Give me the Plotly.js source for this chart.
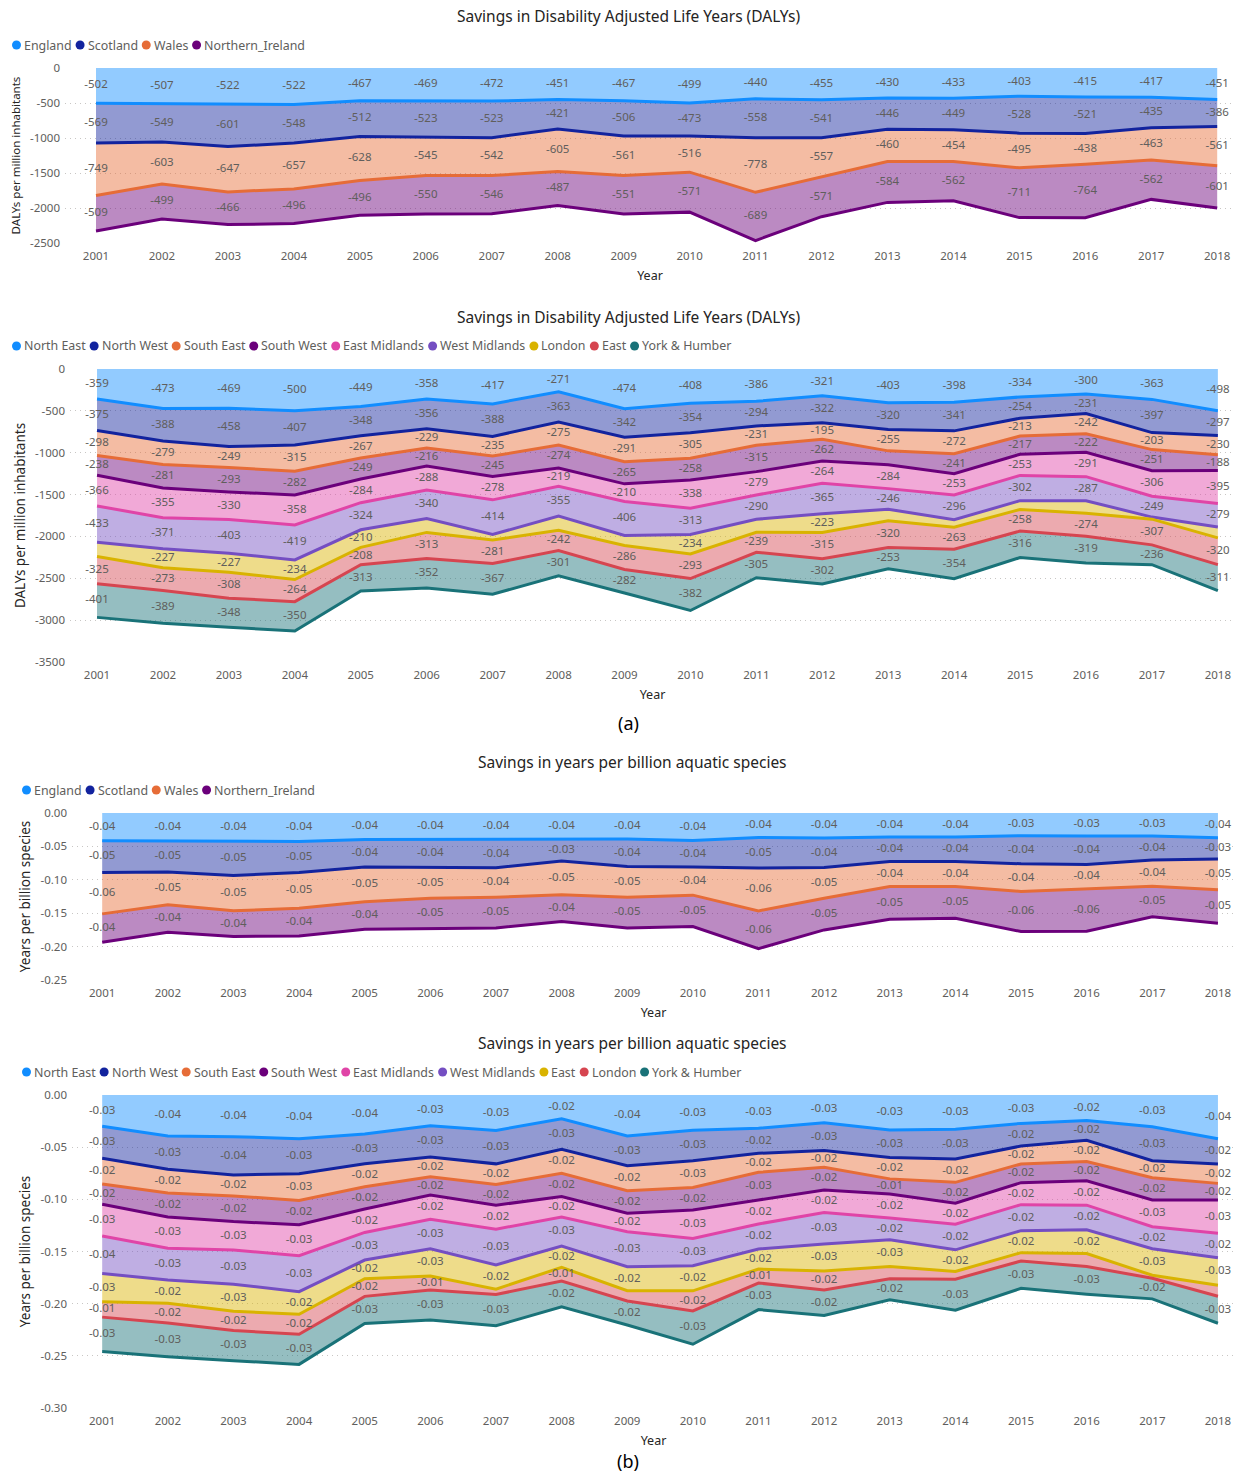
<!DOCTYPE html>
<html>
<head>
<meta charset="utf-8">
<script src="https://cdn.plot.ly/plotly-3.0.1.min.js"></script>
<style>
  html, body { margin: 0; padding: 0; background: #ffffff; }
  #chart { width: 1237px; height: 1472px; }
</style>
</head>
<body>
<div id="chart"></div>
<script>
// ---------------- DATA ----------------
const years = [2001, 2002, 2003, 2004, 2005, 2006, 2007, 2008, 2009, 2010, 2011, 2012, 2013, 2014, 2015, 2016, 2017, 2018];
const yearLabels = ['2001','2002','2003','2004','2005','2006','2007','2008','2009','2010','2011','2012','2013','2014','2015','2016','2017','2018'];

const nationNames = ['England', 'Scotland', 'Wales', 'Northern_Ireland'];
const regionNamesDaly = ['North East', 'North West', 'South East', 'South West', 'East Midlands', 'West Midlands', 'London', 'East', 'York & Humber'];
const regionNamesAqua = ['North East', 'North West', 'South East', 'South West', 'East Midlands', 'West Midlands', 'East', 'London', 'York & Humber'];

// Panel 1: DALYs per million inhabitants, nations
const englandDaly  = [-502, -507, -522, -522, -467, -469, -472, -451, -467, -499, -440, -455, -430, -433, -403, -415, -417, -451];
const scotlandDaly = [-569, -549, -601, -548, -512, -523, -523, -421, -506, -473, -558, -541, -446, -449, -528, -521, -435, -386];
const walesDaly    = [-749, -603, -647, -657, -628, -545, -542, -605, -561, -516, -778, -557, -460, -454, -495, -438, -463, -561];
const nIrelandDaly = [-509, -499, -466, -496, -496, -550, -546, -487, -551, -571, -689, -571, -584, -562, -711, -764, -562, -601];

// Panel 2: DALYs per million inhabitants, English regions
const northEastDaly    = [-359, -473, -469, -500, -449, -358, -417, -271, -474, -408, -386, -321, -403, -398, -334, -300, -363, -498];
const northWestDaly    = [-375, -388, -458, -407, -348, -356, -388, -363, -342, -354, -294, -322, -320, -341, -254, -231, -397, -297];
const southEastDaly    = [-298, -279, -249, -315, -267, -229, -235, -275, -291, -305, -231, -195, -255, -272, -213, -242, -203, -230];
const southWestDaly    = [-238, -281, -293, -282, -249, -216, -245, -274, -265, -258, -315, -262, -167, -241, -217, -222, -251, -188];
const eastMidlandsDaly = [-366, -355, -330, -358, -284, -288, -278, -219, -210, -338, -279, -264, -284, -253, -253, -291, -306, -395];
const westMidlandsDaly = [-433, -371, -403, -419, -324, -340, -414, -355, -406, -313, -290, -365, -246, -296, -302, -287, -249, -279];
const londonDaly       = [-172, -227, -227, -234, -210, -165, -66, -170, -120, -234, -155, -223, -138, -88, -105, -150, -25, -130];
const eastDaly         = [-325, -273, -308, -264, -208, -313, -281, -242, -286, -293, -239, -315, -320, -263, -258, -274, -307, -320];
const yorkDaly         = [-401, -389, -348, -350, -313, -352, -367, -301, -282, -382, -305, -302, -253, -354, -316, -319, -236, -311];

// Panel 3: years per billion aquatic species, nations
const englandAqua  = [-0.0415, -0.0415, -0.0425, -0.0425, -0.0395, -0.0395, -0.0400, -0.0390, -0.0390, -0.0410, -0.0365, -0.0375, -0.0360, -0.0360, -0.0340, -0.0345, -0.0345, -0.0370];
const scotlandAqua = [-0.0475, -0.0470, -0.0510, -0.0465, -0.0415, -0.0420, -0.0420, -0.0330, -0.0410, -0.0400, -0.0460, -0.0440, -0.0365, -0.0365, -0.0420, -0.0425, -0.0360, -0.0320];
const walesAqua    = [-0.0620, -0.0490, -0.0530, -0.0535, -0.0520, -0.0460, -0.0440, -0.0505, -0.0460, -0.0420, -0.0640, -0.0460, -0.0375, -0.0375, -0.0415, -0.0360, -0.0390, -0.0460];
const nIrelandAqua = [-0.0425, -0.0410, -0.0385, -0.0415, -0.0410, -0.0460, -0.0460, -0.0400, -0.0460, -0.0470, -0.0565, -0.0475, -0.0490, -0.0475, -0.0600, -0.0640, -0.0460, -0.0500];

// Panel 4: years per billion aquatic species, English regions
const northEastAqua    = [-0.0300, -0.0393, -0.0399, -0.0419, -0.0374, -0.0294, -0.0340, -0.0227, -0.0393, -0.0339, -0.0319, -0.0265, -0.0335, -0.0329, -0.0272, -0.0245, -0.0304, -0.0419];
const northWestAqua    = [-0.0307, -0.0319, -0.0367, -0.0335, -0.0284, -0.0300, -0.0320, -0.0294, -0.0284, -0.0291, -0.0240, -0.0268, -0.0265, -0.0284, -0.0217, -0.0189, -0.0326, -0.0243];
const southEastAqua    = [-0.0246, -0.0227, -0.0201, -0.0256, -0.0221, -0.0189, -0.0198, -0.0230, -0.0240, -0.0256, -0.0182, -0.0160, -0.0204, -0.0224, -0.0172, -0.0204, -0.0163, -0.0185];
const southWestAqua    = [-0.0195, -0.0230, -0.0246, -0.0233, -0.0214, -0.0176, -0.0198, -0.0223, -0.0217, -0.0217, -0.0265, -0.0217, -0.0145, -0.0201, -0.0179, -0.0185, -0.0214, -0.0160];
const eastMidlandsAqua = [-0.0303, -0.0300, -0.0272, -0.0297, -0.0224, -0.0233, -0.0230, -0.0195, -0.0176, -0.0272, -0.0230, -0.0217, -0.0230, -0.0201, -0.0211, -0.0233, -0.0255, -0.0319];
const westMidlandsAqua = [-0.0360, -0.0304, -0.0329, -0.0345, -0.0265, -0.0281, -0.0342, -0.0278, -0.0335, -0.0262, -0.0240, -0.0300, -0.0208, -0.0245, -0.0249, -0.0236, -0.0211, -0.0233];
const eastAqua         = [-0.0271, -0.0224, -0.0259, -0.0217, -0.0179, -0.0262, -0.0233, -0.0205, -0.0230, -0.0240, -0.0192, -0.0259, -0.0256, -0.0208, -0.0211, -0.0227, -0.0255, -0.0265];
const londonAqua       = [-0.0147, -0.0188, -0.0185, -0.0192, -0.0169, -0.0134, -0.0051, -0.0131, -0.0099, -0.0192, -0.0134, -0.0182, -0.0118, -0.0073, -0.0080, -0.0125, -0.0028, -0.0105];
const yorkAqua         = [-0.0329, -0.0323, -0.0288, -0.0288, -0.0259, -0.0288, -0.0300, -0.0246, -0.0231, -0.0320, -0.0255, -0.0245, -0.0201, -0.0297, -0.0262, -0.0265, -0.0198, -0.0259];

// Axis tick values / labels
const dalyTicks1 = [0, -500, -1000, -1500, -2000, -2500];
const dalyTickText1 = ['0', '-500', '-1000', '-1500', '-2000', '-2500'];
const dalyTicks2 = [0, -500, -1000, -1500, -2000, -2500, -3000, -3500];
const dalyTickText2 = ['0', '-500', '-1000', '-1500', '-2000', '-2500', '-3000', '-3500'];
const aquaTicks1 = [0, -0.05, -0.10, -0.15, -0.20, -0.25];
const aquaTickText1 = ['0.00', '-0.05', '-0.10', '-0.15', '-0.20', '-0.25'];
const aquaTicks2 = [0, -0.05, -0.10, -0.15, -0.20, -0.25, -0.30];
const aquaTickText2 = ['0.00', '-0.05', '-0.10', '-0.15', '-0.20', '-0.25', '-0.30'];

const titleDaly = 'Savings in Disability Adjusted Life Years (DALYs)';
const titleAqua = 'Savings in years per billion aquatic species';
const yTitleDaly = 'DALYs per million inhabitants';
const yTitleAqua = 'Years per billion species';

// ---------------- STYLE ----------------
const W = 1237, H = 1472;
const FONT = '"Segoe UI", "Noto Sans", "Open Sans", sans-serif';
const palette = ['#118DFF', '#12239E', '#E66C37', '#6B007B', '#E044A7', '#744EC2', '#D9B300', '#D64550', '#197278'];
const FILL_ALPHA = 0.46;
const LABEL_COLOR = '#605E5C';
const TICK_COLOR = '#605E5C';
const DARK = '#252423';
const LEGEND_SIZE = 12.4;

function rgba(hex, a) {
  const r = parseInt(hex.slice(1, 3), 16), g = parseInt(hex.slice(3, 5), 16), b = parseInt(hex.slice(5, 7), 16);
  return `rgba(${r},${g},${b},${a})`;
}
const px = p => p / W;
const py = p => 1 - p / H;

const areaTraces = [];
const labelTraces = [];

function addPanel(idx, names, seriesList, fmt, threshold) {
  const xa = idx === 1 ? 'x' : 'x' + idx;
  const ya = idx === 1 ? 'y' : 'y' + idx;
  const cum = years.map(() => 0);
  seriesList.forEach((vals, i) => {
    areaTraces.push({
      type: 'scatter', mode: 'lines', x: years, y: vals, name: names[i],
      stackgroup: 'g' + idx,
      line: { color: palette[i], width: 3, shape: 'linear' },
      fillcolor: rgba(palette[i], FILL_ALPHA),
      xaxis: xa, yaxis: ya, showlegend: false, hoverinfo: 'x+y+name'
    });
    const mids = [], txt = [];
    vals.forEach((v, j) => {
      mids.push(cum[j] + v / 2);
      cum[j] += v;
      txt.push(Math.abs(v) >= threshold ? fmt(v) : '');
    });
    labelTraces.push({
      type: 'scatter', mode: 'text', x: years, y: mids, text: txt,
      textposition: 'middle center',
      textfont: { family: FONT, size: 11.5, color: LABEL_COLOR },
      xaxis: xa, yaxis: ya, showlegend: false, hoverinfo: 'skip', cliponaxis: false
    });
  });
}

const fmtInt = v => String(Math.round(v));
const fmt2 = v => v.toFixed(2);

addPanel(1, nationNames, [englandDaly, scotlandDaly, walesDaly, nIrelandDaly], fmtInt, 0);
addPanel(2, regionNamesDaly, [northEastDaly, northWestDaly, southEastDaly, southWestDaly, eastMidlandsDaly, westMidlandsDaly, londonDaly, eastDaly, yorkDaly], fmtInt, 180);
addPanel(3, nationNames, [englandAqua, scotlandAqua, walesAqua, nIrelandAqua], fmt2, 0);
addPanel(4, regionNamesAqua, [northEastAqua, northWestAqua, southEastAqua, southWestAqua, eastMidlandsAqua, westMidlandsAqua, eastAqua, londonAqua, yorkAqua], fmt2, 0.0128);

function xAxis(d0, d1, r0, r1, anchor) {
  return {
    domain: [px(d0), px(d1)], range: [r0, r1], anchor: anchor,
    tickmode: 'array', tickvals: years, ticktext: yearLabels,
    showgrid: false, zeroline: false, showline: false, ticks: '',
    ticklabelstandoff: 4,
    tickfont: { family: FONT, size: 11.5, color: TICK_COLOR },
    title: { text: 'Year', font: { family: FONT, size: 12.5, color: DARK }, standoff: 9 },
    fixedrange: true
  };
}
function yAxis(top, bottom, range, tv, tt, title, tsize, anchor, standoff) {
  return {
    domain: [py(bottom), py(top)], range: range, anchor: anchor,
    tickmode: 'array', tickvals: tv, ticktext: tt,
    showgrid: true, gridcolor: '#C8C6C4', griddash: '1px,4px', gridwidth: 1,
    zeroline: false, showline: false, ticks: '',
    ticklabelstandoff: 4,
    tickfont: { family: FONT, size: 11.5, color: TICK_COLOR },
    title: { text: title, font: { family: FONT, size: tsize, color: DARK }, standoff: standoff },
    fixedrange: true
  };
}

function ann(text, x, y, size, color, xanchor) {
  return { text: text, x: px(x), y: py(y), xref: 'paper', yref: 'paper', xanchor: xanchor || 'center', yanchor: 'middle',
           showarrow: false, borderpad: 0, font: { family: FONT, size: size, color: color } };
}

const annotations = [
  ann(titleDaly, 628, 16, 15.5, DARK),
  ann(titleDaly, 628, 317, 15.5, DARK),
  ann('(a)', 628, 723, 18, '#000000'),
  ann(titleAqua, 632, 762, 15.5, DARK),
  ann(titleAqua, 632, 1043, 15.5, DARK),
  ann('(b)', 628, 1461, 18, '#000000')
];
const shapes = [];

// Power BI style legend: coloured dot + name, measured so items sit tightly together
const measureCtx = document.createElement('canvas').getContext('2d');
measureCtx.font = `${LEGEND_SIZE}px ${FONT}`;
function addLegend(names, xStart, yc) {
  const D = 9;
  let x = xStart;
  names.forEach((n, i) => {
    shapes.push({
      type: 'circle', xref: 'paper', yref: 'paper', layer: 'above',
      x0: px(x), x1: px(x + D), y0: py(yc + D / 2), y1: py(yc - D / 2),
      fillcolor: palette[i], line: { width: 0 }
    });
    annotations.push(ann(n, x + D + 2, yc, LEGEND_SIZE, TICK_COLOR, 'left'));
    x += D + 2 + measureCtx.measureText(n).width + 5;
  });
}
addLegend(nationNames, 12, 45);
addLegend(regionNamesDaly, 12, 346);
addLegend(nationNames, 22, 790);
addLegend(regionNamesAqua, 22, 1072);

const layout = {
  width: W, height: H,
  margin: { l: 0, r: 0, t: 0, b: 0, pad: 0 },
  paper_bgcolor: '#ffffff', plot_bgcolor: 'rgba(0,0,0,0)',
  showlegend: false,
  font: { family: FONT, color: TICK_COLOR },
  xaxis:  xAxis(65, 1235, 2000.53, 2018.27, 'y'),
  yaxis:  yAxis(68, 243, [-2500, 0], dalyTicks1, dalyTickText1, yTitleDaly, 11.5, 'x', 6),
  xaxis2: xAxis(70, 1235, 2000.59, 2018.26, 'y2'),
  yaxis2: yAxis(369, 662, [-3500, 0], dalyTicks2, dalyTickText2, yTitleDaly, 13.5, 'x2', 6),
  xaxis3: xAxis(72, 1235, 2000.54, 2018.26, 'y3'),
  yaxis3: yAxis(813, 980, [-0.25, 0], aquaTicks1, aquaTickText1, yTitleAqua, 13.5, 'x3', 6),
  xaxis4: xAxis(72, 1235, 2000.54, 2018.26, 'y4'),
  yaxis4: yAxis(1095, 1408, [-0.30, 0], aquaTicks2, aquaTickText2, yTitleAqua, 13.5, 'x4', 6),
  annotations: annotations,
  shapes: shapes
};

Plotly.newPlot('chart', areaTraces.concat(labelTraces), layout, { displayModeBar: false, staticPlot: true });
</script>
</body>
</html>
